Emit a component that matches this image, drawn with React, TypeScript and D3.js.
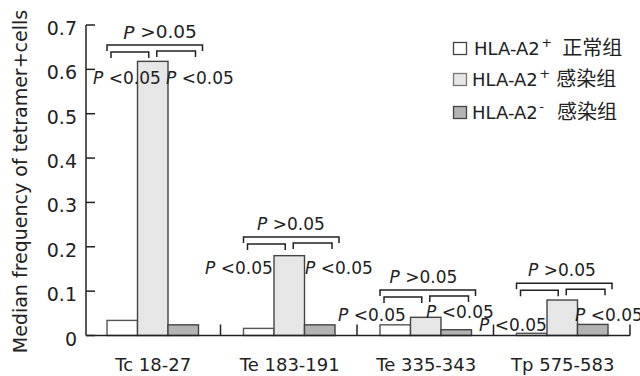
import { scaleBand, scaleLinear } from "d3";

const categories = ["Tc 18-27", "Te 183-191", "Te 335-343", "Tp 575-583"];
const normalPos = [0.034, 0.016, 0.024, 0.005];
const infectedPos = [0.618, 0.18, 0.041, 0.08];
const infectedNeg = [0.024, 0.024, 0.013, 0.025];
const series = [normalPos, infectedPos, infectedNeg];
const seriesFill = ["#ffffff", "#e6e6e6", "#b3b3b3"];
const seriesStroke = ["#555", "#444", "#444"];

const legendBase = ["HLA-A2", "HLA-A2", "HLA-A2"];
const legendSup = ["+", "+", "-"];
const legendCn = ["正常组", "感染组", "感染组"];

const yTicks = [0, 0.1, 0.2, 0.3, 0.4, 0.5, 0.6, 0.7];
const yTickLabels = ["0", "0.1", "0.2", "0.3", "0.4", "0.5", "0.6", "0.7"];

const pHigh = ">0.05";
const pLow = "<0.05";
// bracket level and label heights (in data units) for each group
const bracketLevel = [0.655, 0.222, 0.1026, 0.118];
const leftLabelY = [0.58, 0.152, 0.046, 0.024];
const rightLabelY = [0.58, 0.152, 0.053, 0.046];
// horizontal label offsets from the band start, px
const leftLabelDx = [9, -15.5, -19, -14.5];
const rightLabelDx = [82, 84.5, 69, 81.5];
const topLabelDx = [76, 70.5, 66.5, 68.5];

const font = "'DejaVu Sans', sans-serif";
const cjk = "'Noto Sans CJK SC', sans-serif";
const ink = "#222";

const App = () => {
  const width = 640;
  const height = 376;
  const axisX = 86;

  const x = scaleBand<string>().domain(categories).range([84, 630]);
  const barScale = scaleBand<number>().domain([0, 1, 2]).range([23, 114.5]);
  const y = scaleLinear().domain([0, 0.7]).range([335.5, 25]);

  const PLabel = ({ px, py, text, anchor = "start", size = 17 }) => (
    <text
      x={px}
      y={py}
      fontFamily={font}
      fontSize={size}
      fill={ink}
      textAnchor={anchor}
      dominantBaseline="central"
    >
      <tspan fontStyle="italic">P</tspan>
      {" " + text}
    </text>
  );

  const bracket = (x0, x1, yy, key) => (
    <path
      key={key}
      d={`M${x0},${yy + 6}V${yy}H${x1}V${yy + 6}`}
      fill="none"
      stroke={ink}
      strokeWidth={1.5}
    />
  );

  return (
    <svg
      width={width}
      height={height}
      style={{ position: "absolute", left: 0, top: 0, background: "#fff" }}
    >
      {/* y axis */}
      <line x1={axisX} x2={axisX} y1={y(0.7)} y2={y(0)} stroke={ink} strokeWidth={1.5} />
      {yTicks.map((t, i) => (
        <g key={i}>
          <line x1={axisX} x2={axisX + 9} y1={y(t)} y2={y(t)} stroke={ink} strokeWidth={1.5} />
          <text
            x={77}
            y={y(t) + 3}
            textAnchor="end"
            dominantBaseline="central"
            fontFamily={font}
            fontSize={19}
            fill={ink}
          >
            {yTickLabels[i]}
          </text>
        </g>
      ))}
      <text
        transform={`translate(27,181.5) rotate(-90)`}
        textAnchor="middle"
        fontFamily={font}
        fontSize={19}
        fill={ink}
      >
        Median frequency of tetramer+cells
      </text>

      {/* bars */}
      {categories.map((c, gi) => (
        <g key={c} transform={`translate(${x(c)},0)`}>
          {series.map((s, si) => (
            <rect
              key={si}
              x={barScale(si)}
              y={y(s[gi])}
              width={barScale.bandwidth()}
              height={y(0) - y(s[gi])}
              fill={seriesFill[si]}
              stroke={seriesStroke[si]}
              strokeWidth={1.4}
            />
          ))}
        </g>
      ))}

      {/* x axis */}
      <line x1={axisX} x2={630} y1={y(0)} y2={y(0)} stroke={ink} strokeWidth={1.5} />
      {categories.map((c) => (
        <g key={c}>
          <line
            x1={x(c) + x.bandwidth()}
            x2={x(c) + x.bandwidth()}
            y1={y(0)}
            y2={y(0) - 11}
            stroke={ink}
            strokeWidth={1.5}
          />
          <text
            x={x(c) + x.bandwidth() / 2 + 1}
            y={371}
            textAnchor="middle"
            fontFamily={font}
            fontSize={18}
            fill={ink}
          >
            {c}
          </text>
        </g>
      ))}

      {/* significance brackets */}
      {categories.map((c, gi) => {
        const b = x(c);
        const w = barScale.bandwidth();
        const whiteX = b + barScale(0);
        const lightMid = b + barScale(1) + w / 2;
        const darkEnd = b + barScale(2) + w;
        const ly = y(bracketLevel[gi]);
        return (
          <g key={c}>
            {bracket(whiteX, darkEnd + 4, ly, "big")}
            {bracket(whiteX + 4, lightMid - 4, ly + 7, "l")}
            {bracket(lightMid + 4, darkEnd - 3, ly + 6, "r")}
            <PLabel px={b + topLabelDx[gi]} py={ly - 13} text={pHigh} anchor="middle" size={gi === 0 ? 18.5 : 17} />
            <PLabel px={b + leftLabelDx[gi]} py={y(leftLabelY[gi])} text={pLow} />
            <PLabel px={b + rightLabelDx[gi]} py={y(rightLabelY[gi])} text={pLow} />
          </g>
        );
      })}

      {/* legend */}
      {legendCn.map((cn, i) => {
        const rowY = [55, 86, 119][i];
        return (
          <g key={i}>
            <rect
              x={453.5}
              y={rowY - 12.5}
              width={13}
              height={12}
              fill={seriesFill[i]}
              stroke={i === 1 ? "#777" : "#444"}
              strokeWidth={1.3}
            />
            <text x={i === 0 ? 474 : 472} y={rowY} fontFamily={font} fontSize={18} fill={ink}>
              {legendBase[i]}
              <tspan fontSize={13} dy={-8} dx={1.5}>
                {legendSup[i]}
              </tspan>
              <tspan dy={8} dx={[10, 6, 13][i]} fontFamily={cjk} fontSize={20}>
                {cn}
              </tspan>
            </text>
          </g>
        );
      })}
    </svg>
  );
};

export default App;
